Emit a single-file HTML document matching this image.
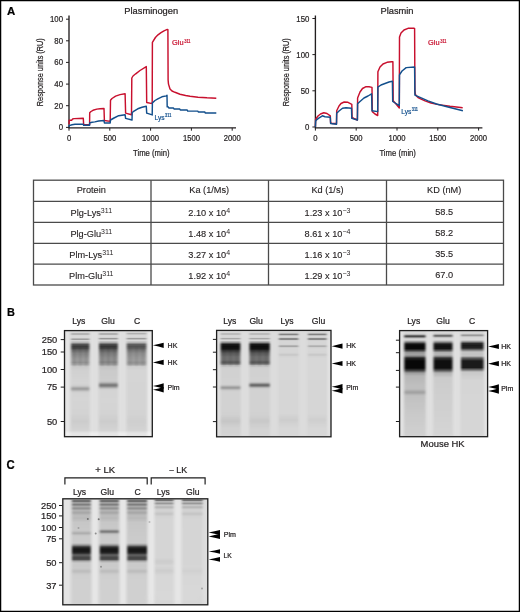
<!DOCTYPE html>
<html><head><meta charset="utf-8"><style>
html,body{margin:0;padding:0;background:#fff;}
body{width:520px;height:612px;overflow:hidden;}
svg{position:absolute;left:0;top:0;font-family:"Liberation Sans", sans-serif;will-change:transform;}
</style></head><body>
<svg width="520" height="612" viewBox="0 0 520 612">
<defs><filter id="bl" x="-10%" y="-2%" width="120%" height="104%"><feGaussianBlur stdDeviation="0.8 0.45"/></filter><filter id="bl2" x="-50%" y="-5%" width="200%" height="110%"><feGaussianBlur stdDeviation="1.2"/></filter><filter id="bl4" x="-100%" y="-100%" width="300%" height="300%"><feGaussianBlur stdDeviation="0.5"/></filter><filter id="bl3" x="-20%" y="-5%" width="140%" height="110%"><feGaussianBlur stdDeviation="4"/></filter><linearGradient id="g1" gradientUnits="userSpaceOnUse" x1="0" y1="331" x2="0" y2="436"><stop offset="0.0000" stop-color="#000" stop-opacity="0.000"/><stop offset="0.0119" stop-color="#000" stop-opacity="0.004"/><stop offset="0.0143" stop-color="#000" stop-opacity="0.011"/><stop offset="0.0167" stop-color="#000" stop-opacity="0.029"/><stop offset="0.0190" stop-color="#000" stop-opacity="0.062"/><stop offset="0.0214" stop-color="#000" stop-opacity="0.114"/><stop offset="0.0262" stop-color="#000" stop-opacity="0.229"/><stop offset="0.0286" stop-color="#000" stop-opacity="0.250"/><stop offset="0.0310" stop-color="#000" stop-opacity="0.229"/><stop offset="0.0381" stop-color="#000" stop-opacity="0.062"/><stop offset="0.0405" stop-color="#000" stop-opacity="0.029"/><stop offset="0.0429" stop-color="#000" stop-opacity="0.011"/><stop offset="0.0524" stop-color="#000" stop-opacity="0.000"/><stop offset="0.0619" stop-color="#000" stop-opacity="0.005"/><stop offset="0.0643" stop-color="#000" stop-opacity="0.016"/><stop offset="0.0667" stop-color="#000" stop-opacity="0.041"/><stop offset="0.0690" stop-color="#000" stop-opacity="0.086"/><stop offset="0.0738" stop-color="#000" stop-opacity="0.226"/><stop offset="0.0762" stop-color="#000" stop-opacity="0.284"/><stop offset="0.0786" stop-color="#000" stop-opacity="0.299"/><stop offset="0.0810" stop-color="#000" stop-opacity="0.265"/><stop offset="0.0857" stop-color="#000" stop-opacity="0.123"/><stop offset="0.0881" stop-color="#000" stop-opacity="0.065"/><stop offset="0.0905" stop-color="#000" stop-opacity="0.029"/><stop offset="0.0929" stop-color="#000" stop-opacity="0.033"/><stop offset="0.1024" stop-color="#000" stop-opacity="0.113"/><stop offset="0.1095" stop-color="#000" stop-opacity="0.180"/><stop offset="0.1286" stop-color="#000" stop-opacity="0.620"/><stop offset="0.1476" stop-color="#000" stop-opacity="0.720"/><stop offset="0.1667" stop-color="#000" stop-opacity="0.660"/><stop offset="0.1810" stop-color="#000" stop-opacity="0.520"/><stop offset="0.2095" stop-color="#000" stop-opacity="0.380"/><stop offset="0.2548" stop-color="#000" stop-opacity="0.290"/><stop offset="0.2762" stop-color="#000" stop-opacity="0.260"/><stop offset="0.3000" stop-color="#000" stop-opacity="0.300"/><stop offset="0.3190" stop-color="#000" stop-opacity="0.220"/><stop offset="0.3381" stop-color="#000" stop-opacity="0.070"/><stop offset="0.3786" stop-color="#000" stop-opacity="0.038"/><stop offset="0.4952" stop-color="#000" stop-opacity="0.020"/><stop offset="0.5143" stop-color="#000" stop-opacity="0.035"/><stop offset="0.5238" stop-color="#000" stop-opacity="0.073"/><stop offset="0.5333" stop-color="#000" stop-opacity="0.150"/><stop offset="0.5429" stop-color="#000" stop-opacity="0.236"/><stop offset="0.5476" stop-color="#000" stop-opacity="0.261"/><stop offset="0.5524" stop-color="#000" stop-opacity="0.263"/><stop offset="0.5595" stop-color="#000" stop-opacity="0.225"/><stop offset="0.5738" stop-color="#000" stop-opacity="0.096"/><stop offset="0.5810" stop-color="#000" stop-opacity="0.053"/><stop offset="0.5905" stop-color="#000" stop-opacity="0.028"/><stop offset="0.6333" stop-color="#000" stop-opacity="0.020"/><stop offset="0.7881" stop-color="#000" stop-opacity="0.028"/><stop offset="0.8595" stop-color="#000" stop-opacity="0.059"/><stop offset="0.9524" stop-color="#000" stop-opacity="0.022"/><stop offset="1.0000" stop-color="#000" stop-opacity="0.020"/></linearGradient><linearGradient id="g2" gradientUnits="userSpaceOnUse" x1="0" y1="331" x2="0" y2="436"><stop offset="0.0000" stop-color="#000" stop-opacity="0.000"/><stop offset="0.0119" stop-color="#000" stop-opacity="0.004"/><stop offset="0.0143" stop-color="#000" stop-opacity="0.012"/><stop offset="0.0167" stop-color="#000" stop-opacity="0.031"/><stop offset="0.0190" stop-color="#000" stop-opacity="0.067"/><stop offset="0.0214" stop-color="#000" stop-opacity="0.124"/><stop offset="0.0238" stop-color="#000" stop-opacity="0.191"/><stop offset="0.0262" stop-color="#000" stop-opacity="0.248"/><stop offset="0.0286" stop-color="#000" stop-opacity="0.270"/><stop offset="0.0310" stop-color="#000" stop-opacity="0.248"/><stop offset="0.0333" stop-color="#000" stop-opacity="0.191"/><stop offset="0.0357" stop-color="#000" stop-opacity="0.124"/><stop offset="0.0381" stop-color="#000" stop-opacity="0.067"/><stop offset="0.0405" stop-color="#000" stop-opacity="0.031"/><stop offset="0.0429" stop-color="#000" stop-opacity="0.012"/><stop offset="0.0500" stop-color="#000" stop-opacity="0.000"/><stop offset="0.0571" stop-color="#000" stop-opacity="0.006"/><stop offset="0.0595" stop-color="#000" stop-opacity="0.017"/><stop offset="0.0619" stop-color="#000" stop-opacity="0.043"/><stop offset="0.0643" stop-color="#000" stop-opacity="0.091"/><stop offset="0.0690" stop-color="#000" stop-opacity="0.242"/><stop offset="0.0714" stop-color="#000" stop-opacity="0.303"/><stop offset="0.0738" stop-color="#000" stop-opacity="0.319"/><stop offset="0.0762" stop-color="#000" stop-opacity="0.282"/><stop offset="0.0810" stop-color="#000" stop-opacity="0.132"/><stop offset="0.0833" stop-color="#000" stop-opacity="0.069"/><stop offset="0.0857" stop-color="#000" stop-opacity="0.031"/><stop offset="0.0881" stop-color="#000" stop-opacity="0.011"/><stop offset="0.0905" stop-color="#000" stop-opacity="0.004"/><stop offset="0.1095" stop-color="#000" stop-opacity="0.220"/><stop offset="0.1286" stop-color="#000" stop-opacity="0.660"/><stop offset="0.1476" stop-color="#000" stop-opacity="0.750"/><stop offset="0.1667" stop-color="#000" stop-opacity="0.680"/><stop offset="0.1810" stop-color="#000" stop-opacity="0.550"/><stop offset="0.2095" stop-color="#000" stop-opacity="0.420"/><stop offset="0.2500" stop-color="#000" stop-opacity="0.338"/><stop offset="0.2762" stop-color="#000" stop-opacity="0.320"/><stop offset="0.2976" stop-color="#000" stop-opacity="0.369"/><stop offset="0.3190" stop-color="#000" stop-opacity="0.280"/><stop offset="0.3381" stop-color="#000" stop-opacity="0.100"/><stop offset="0.3786" stop-color="#000" stop-opacity="0.069"/><stop offset="0.4667" stop-color="#000" stop-opacity="0.055"/><stop offset="0.4786" stop-color="#000" stop-opacity="0.078"/><stop offset="0.4857" stop-color="#000" stop-opacity="0.119"/><stop offset="0.4929" stop-color="#000" stop-opacity="0.189"/><stop offset="0.5071" stop-color="#000" stop-opacity="0.378"/><stop offset="0.5119" stop-color="#000" stop-opacity="0.422"/><stop offset="0.5167" stop-color="#000" stop-opacity="0.440"/><stop offset="0.5214" stop-color="#000" stop-opacity="0.426"/><stop offset="0.5262" stop-color="#000" stop-opacity="0.385"/><stop offset="0.5429" stop-color="#000" stop-opacity="0.159"/><stop offset="0.5500" stop-color="#000" stop-opacity="0.089"/><stop offset="0.5571" stop-color="#000" stop-opacity="0.049"/><stop offset="0.5667" stop-color="#000" stop-opacity="0.026"/><stop offset="0.6619" stop-color="#000" stop-opacity="0.020"/><stop offset="0.7881" stop-color="#000" stop-opacity="0.028"/><stop offset="0.8595" stop-color="#000" stop-opacity="0.059"/><stop offset="0.9524" stop-color="#000" stop-opacity="0.022"/><stop offset="1.0000" stop-color="#000" stop-opacity="0.020"/></linearGradient><linearGradient id="g3" gradientUnits="userSpaceOnUse" x1="0" y1="331" x2="0" y2="436"><stop offset="0.0000" stop-color="#000" stop-opacity="0.000"/><stop offset="0.0095" stop-color="#000" stop-opacity="0.004"/><stop offset="0.0143" stop-color="#000" stop-opacity="0.027"/><stop offset="0.0167" stop-color="#000" stop-opacity="0.057"/><stop offset="0.0214" stop-color="#000" stop-opacity="0.151"/><stop offset="0.0238" stop-color="#000" stop-opacity="0.189"/><stop offset="0.0262" stop-color="#000" stop-opacity="0.199"/><stop offset="0.0286" stop-color="#000" stop-opacity="0.176"/><stop offset="0.0333" stop-color="#000" stop-opacity="0.082"/><stop offset="0.0357" stop-color="#000" stop-opacity="0.043"/><stop offset="0.0381" stop-color="#000" stop-opacity="0.019"/><stop offset="0.0429" stop-color="#000" stop-opacity="0.002"/><stop offset="0.0571" stop-color="#000" stop-opacity="0.005"/><stop offset="0.0595" stop-color="#000" stop-opacity="0.016"/><stop offset="0.0619" stop-color="#000" stop-opacity="0.041"/><stop offset="0.0643" stop-color="#000" stop-opacity="0.086"/><stop offset="0.0690" stop-color="#000" stop-opacity="0.226"/><stop offset="0.0714" stop-color="#000" stop-opacity="0.284"/><stop offset="0.0738" stop-color="#000" stop-opacity="0.299"/><stop offset="0.0762" stop-color="#000" stop-opacity="0.265"/><stop offset="0.0810" stop-color="#000" stop-opacity="0.123"/><stop offset="0.0833" stop-color="#000" stop-opacity="0.065"/><stop offset="0.0857" stop-color="#000" stop-opacity="0.029"/><stop offset="0.0881" stop-color="#000" stop-opacity="0.011"/><stop offset="0.0905" stop-color="#000" stop-opacity="0.003"/><stop offset="0.1095" stop-color="#000" stop-opacity="0.170"/><stop offset="0.1286" stop-color="#000" stop-opacity="0.560"/><stop offset="0.1476" stop-color="#000" stop-opacity="0.620"/><stop offset="0.1667" stop-color="#000" stop-opacity="0.550"/><stop offset="0.1810" stop-color="#000" stop-opacity="0.450"/><stop offset="0.2119" stop-color="#000" stop-opacity="0.336"/><stop offset="0.2524" stop-color="#000" stop-opacity="0.277"/><stop offset="0.2762" stop-color="#000" stop-opacity="0.260"/><stop offset="0.3024" stop-color="#000" stop-opacity="0.307"/><stop offset="0.3071" stop-color="#000" stop-opacity="0.293"/><stop offset="0.3214" stop-color="#000" stop-opacity="0.222"/><stop offset="0.3381" stop-color="#000" stop-opacity="0.050"/><stop offset="0.3762" stop-color="#000" stop-opacity="0.020"/><stop offset="0.7881" stop-color="#000" stop-opacity="0.026"/><stop offset="0.8619" stop-color="#000" stop-opacity="0.049"/><stop offset="0.9595" stop-color="#000" stop-opacity="0.021"/><stop offset="1.0000" stop-color="#000" stop-opacity="0.020"/></linearGradient><linearGradient id="st1" x1="0" y1="0" x2="1" y2="0"><stop offset="0.000" stop-color="#000" stop-opacity="0"/><stop offset="0.167" stop-color="#000" stop-opacity="0.12"/><stop offset="0.333" stop-color="#000" stop-opacity="0"/><stop offset="0.500" stop-color="#000" stop-opacity="0.12"/><stop offset="0.667" stop-color="#000" stop-opacity="0"/><stop offset="0.833" stop-color="#000" stop-opacity="0.12"/><stop offset="1.000" stop-color="#000" stop-opacity="0"/></linearGradient><linearGradient id="st2" x1="0" y1="0" x2="1" y2="0"><stop offset="0.000" stop-color="#000" stop-opacity="0"/><stop offset="0.167" stop-color="#000" stop-opacity="0.12"/><stop offset="0.333" stop-color="#000" stop-opacity="0"/><stop offset="0.500" stop-color="#000" stop-opacity="0.12"/><stop offset="0.667" stop-color="#000" stop-opacity="0"/><stop offset="0.833" stop-color="#000" stop-opacity="0.12"/><stop offset="1.000" stop-color="#000" stop-opacity="0"/></linearGradient><linearGradient id="st3" x1="0" y1="0" x2="1" y2="0"><stop offset="0.000" stop-color="#000" stop-opacity="0"/><stop offset="0.167" stop-color="#000" stop-opacity="0.1"/><stop offset="0.333" stop-color="#000" stop-opacity="0"/><stop offset="0.500" stop-color="#000" stop-opacity="0.1"/><stop offset="0.667" stop-color="#000" stop-opacity="0"/><stop offset="0.833" stop-color="#000" stop-opacity="0.1"/><stop offset="1.000" stop-color="#000" stop-opacity="0"/></linearGradient><linearGradient id="g4" gradientUnits="userSpaceOnUse" x1="0" y1="331" x2="0" y2="436"><stop offset="0.0000" stop-color="#000" stop-opacity="0.000"/><stop offset="0.0143" stop-color="#000" stop-opacity="0.005"/><stop offset="0.0167" stop-color="#000" stop-opacity="0.015"/><stop offset="0.0190" stop-color="#000" stop-opacity="0.038"/><stop offset="0.0214" stop-color="#000" stop-opacity="0.079"/><stop offset="0.0262" stop-color="#000" stop-opacity="0.180"/><stop offset="0.0286" stop-color="#000" stop-opacity="0.200"/><stop offset="0.0310" stop-color="#000" stop-opacity="0.180"/><stop offset="0.0357" stop-color="#000" stop-opacity="0.079"/><stop offset="0.0381" stop-color="#000" stop-opacity="0.038"/><stop offset="0.0405" stop-color="#000" stop-opacity="0.015"/><stop offset="0.0452" stop-color="#000" stop-opacity="0.001"/><stop offset="0.0595" stop-color="#000" stop-opacity="0.007"/><stop offset="0.0619" stop-color="#000" stop-opacity="0.022"/><stop offset="0.0643" stop-color="#000" stop-opacity="0.054"/><stop offset="0.0667" stop-color="#000" stop-opacity="0.107"/><stop offset="0.0690" stop-color="#000" stop-opacity="0.172"/><stop offset="0.0714" stop-color="#000" stop-opacity="0.225"/><stop offset="0.0738" stop-color="#000" stop-opacity="0.239"/><stop offset="0.0762" stop-color="#000" stop-opacity="0.207"/><stop offset="0.0810" stop-color="#000" stop-opacity="0.083"/><stop offset="0.0833" stop-color="#000" stop-opacity="0.039"/><stop offset="0.0857" stop-color="#000" stop-opacity="0.015"/><stop offset="0.0905" stop-color="#000" stop-opacity="0.001"/><stop offset="0.1095" stop-color="#000" stop-opacity="0.350"/><stop offset="0.1262" stop-color="#000" stop-opacity="0.865"/><stop offset="0.1286" stop-color="#000" stop-opacity="0.885"/><stop offset="0.1476" stop-color="#000" stop-opacity="0.940"/><stop offset="0.1714" stop-color="#000" stop-opacity="0.900"/><stop offset="0.1857" stop-color="#000" stop-opacity="0.750"/><stop offset="0.2095" stop-color="#000" stop-opacity="0.580"/><stop offset="0.2476" stop-color="#000" stop-opacity="0.460"/><stop offset="0.2762" stop-color="#000" stop-opacity="0.460"/><stop offset="0.2976" stop-color="#000" stop-opacity="0.577"/><stop offset="0.3095" stop-color="#000" stop-opacity="0.495"/><stop offset="0.3143" stop-color="#000" stop-opacity="0.460"/><stop offset="0.3286" stop-color="#000" stop-opacity="0.120"/><stop offset="0.3524" stop-color="#000" stop-opacity="0.030"/><stop offset="0.5000" stop-color="#000" stop-opacity="0.023"/><stop offset="0.5095" stop-color="#000" stop-opacity="0.039"/><stop offset="0.5167" stop-color="#000" stop-opacity="0.075"/><stop offset="0.5238" stop-color="#000" stop-opacity="0.142"/><stop offset="0.5333" stop-color="#000" stop-opacity="0.245"/><stop offset="0.5381" stop-color="#000" stop-opacity="0.272"/><stop offset="0.5429" stop-color="#000" stop-opacity="0.269"/><stop offset="0.5476" stop-color="#000" stop-opacity="0.236"/><stop offset="0.5619" stop-color="#000" stop-opacity="0.086"/><stop offset="0.5690" stop-color="#000" stop-opacity="0.044"/><stop offset="0.5810" stop-color="#000" stop-opacity="0.022"/><stop offset="0.7952" stop-color="#000" stop-opacity="0.026"/><stop offset="0.8381" stop-color="#000" stop-opacity="0.067"/><stop offset="0.8619" stop-color="#000" stop-opacity="0.078"/><stop offset="0.9214" stop-color="#000" stop-opacity="0.025"/><stop offset="1.0000" stop-color="#000" stop-opacity="0.020"/></linearGradient><linearGradient id="g5" gradientUnits="userSpaceOnUse" x1="0" y1="331" x2="0" y2="436"><stop offset="0.0000" stop-color="#000" stop-opacity="0.000"/><stop offset="0.0143" stop-color="#000" stop-opacity="0.005"/><stop offset="0.0167" stop-color="#000" stop-opacity="0.015"/><stop offset="0.0190" stop-color="#000" stop-opacity="0.038"/><stop offset="0.0214" stop-color="#000" stop-opacity="0.079"/><stop offset="0.0262" stop-color="#000" stop-opacity="0.180"/><stop offset="0.0286" stop-color="#000" stop-opacity="0.200"/><stop offset="0.0310" stop-color="#000" stop-opacity="0.180"/><stop offset="0.0357" stop-color="#000" stop-opacity="0.079"/><stop offset="0.0381" stop-color="#000" stop-opacity="0.038"/><stop offset="0.0405" stop-color="#000" stop-opacity="0.015"/><stop offset="0.0452" stop-color="#000" stop-opacity="0.001"/><stop offset="0.0595" stop-color="#000" stop-opacity="0.007"/><stop offset="0.0619" stop-color="#000" stop-opacity="0.022"/><stop offset="0.0643" stop-color="#000" stop-opacity="0.054"/><stop offset="0.0667" stop-color="#000" stop-opacity="0.107"/><stop offset="0.0690" stop-color="#000" stop-opacity="0.172"/><stop offset="0.0714" stop-color="#000" stop-opacity="0.225"/><stop offset="0.0738" stop-color="#000" stop-opacity="0.239"/><stop offset="0.0762" stop-color="#000" stop-opacity="0.207"/><stop offset="0.0810" stop-color="#000" stop-opacity="0.083"/><stop offset="0.0833" stop-color="#000" stop-opacity="0.039"/><stop offset="0.0857" stop-color="#000" stop-opacity="0.015"/><stop offset="0.0905" stop-color="#000" stop-opacity="0.001"/><stop offset="0.1095" stop-color="#000" stop-opacity="0.350"/><stop offset="0.1262" stop-color="#000" stop-opacity="0.865"/><stop offset="0.1286" stop-color="#000" stop-opacity="0.885"/><stop offset="0.1476" stop-color="#000" stop-opacity="0.940"/><stop offset="0.1714" stop-color="#000" stop-opacity="0.900"/><stop offset="0.1857" stop-color="#000" stop-opacity="0.750"/><stop offset="0.2095" stop-color="#000" stop-opacity="0.580"/><stop offset="0.2476" stop-color="#000" stop-opacity="0.460"/><stop offset="0.2762" stop-color="#000" stop-opacity="0.460"/><stop offset="0.2976" stop-color="#000" stop-opacity="0.577"/><stop offset="0.3095" stop-color="#000" stop-opacity="0.495"/><stop offset="0.3143" stop-color="#000" stop-opacity="0.460"/><stop offset="0.3286" stop-color="#000" stop-opacity="0.120"/><stop offset="0.3524" stop-color="#000" stop-opacity="0.030"/><stop offset="0.4714" stop-color="#000" stop-opacity="0.024"/><stop offset="0.4810" stop-color="#000" stop-opacity="0.043"/><stop offset="0.4881" stop-color="#000" stop-opacity="0.091"/><stop offset="0.4929" stop-color="#000" stop-opacity="0.149"/><stop offset="0.5000" stop-color="#000" stop-opacity="0.278"/><stop offset="0.5071" stop-color="#000" stop-opacity="0.421"/><stop offset="0.5119" stop-color="#000" stop-opacity="0.488"/><stop offset="0.5143" stop-color="#000" stop-opacity="0.506"/><stop offset="0.5167" stop-color="#000" stop-opacity="0.510"/><stop offset="0.5190" stop-color="#000" stop-opacity="0.500"/><stop offset="0.5214" stop-color="#000" stop-opacity="0.478"/><stop offset="0.5262" stop-color="#000" stop-opacity="0.404"/><stop offset="0.5357" stop-color="#000" stop-opacity="0.213"/><stop offset="0.5405" stop-color="#000" stop-opacity="0.136"/><stop offset="0.5452" stop-color="#000" stop-opacity="0.082"/><stop offset="0.5524" stop-color="#000" stop-opacity="0.040"/><stop offset="0.5643" stop-color="#000" stop-opacity="0.022"/><stop offset="0.7976" stop-color="#000" stop-opacity="0.026"/><stop offset="0.8571" stop-color="#000" stop-opacity="0.069"/><stop offset="0.8929" stop-color="#000" stop-opacity="0.042"/><stop offset="0.9333" stop-color="#000" stop-opacity="0.021"/><stop offset="1.0000" stop-color="#000" stop-opacity="0.020"/></linearGradient><linearGradient id="g6" gradientUnits="userSpaceOnUse" x1="0" y1="331" x2="0" y2="436"><stop offset="0.0000" stop-color="#000" stop-opacity="0.000"/><stop offset="0.0119" stop-color="#000" stop-opacity="0.004"/><stop offset="0.0167" stop-color="#000" stop-opacity="0.025"/><stop offset="0.0190" stop-color="#000" stop-opacity="0.054"/><stop offset="0.0214" stop-color="#000" stop-opacity="0.104"/><stop offset="0.0238" stop-color="#000" stop-opacity="0.175"/><stop offset="0.0286" stop-color="#000" stop-opacity="0.340"/><stop offset="0.0310" stop-color="#000" stop-opacity="0.391"/><stop offset="0.0333" stop-color="#000" stop-opacity="0.396"/><stop offset="0.0357" stop-color="#000" stop-opacity="0.353"/><stop offset="0.0429" stop-color="#000" stop-opacity="0.116"/><stop offset="0.0452" stop-color="#000" stop-opacity="0.062"/><stop offset="0.0476" stop-color="#000" stop-opacity="0.029"/><stop offset="0.0524" stop-color="#000" stop-opacity="0.005"/><stop offset="0.0571" stop-color="#000" stop-opacity="0.008"/><stop offset="0.0595" stop-color="#000" stop-opacity="0.020"/><stop offset="0.0619" stop-color="#000" stop-opacity="0.046"/><stop offset="0.0643" stop-color="#000" stop-opacity="0.093"/><stop offset="0.0667" stop-color="#000" stop-opacity="0.166"/><stop offset="0.0714" stop-color="#000" stop-opacity="0.356"/><stop offset="0.0738" stop-color="#000" stop-opacity="0.432"/><stop offset="0.0762" stop-color="#000" stop-opacity="0.460"/><stop offset="0.0786" stop-color="#000" stop-opacity="0.432"/><stop offset="0.0810" stop-color="#000" stop-opacity="0.356"/><stop offset="0.0857" stop-color="#000" stop-opacity="0.166"/><stop offset="0.0881" stop-color="#000" stop-opacity="0.093"/><stop offset="0.0905" stop-color="#000" stop-opacity="0.046"/><stop offset="0.0929" stop-color="#000" stop-opacity="0.020"/><stop offset="0.0976" stop-color="#000" stop-opacity="0.003"/><stop offset="0.1238" stop-color="#000" stop-opacity="0.003"/><stop offset="0.1286" stop-color="#000" stop-opacity="0.018"/><stop offset="0.1310" stop-color="#000" stop-opacity="0.037"/><stop offset="0.1333" stop-color="#000" stop-opacity="0.067"/><stop offset="0.1405" stop-color="#000" stop-opacity="0.200"/><stop offset="0.1429" stop-color="#000" stop-opacity="0.232"/><stop offset="0.1452" stop-color="#000" stop-opacity="0.239"/><stop offset="0.1476" stop-color="#000" stop-opacity="0.222"/><stop offset="0.1524" stop-color="#000" stop-opacity="0.136"/><stop offset="0.1571" stop-color="#000" stop-opacity="0.053"/><stop offset="0.1595" stop-color="#000" stop-opacity="0.028"/><stop offset="0.1643" stop-color="#000" stop-opacity="0.006"/><stop offset="0.2024" stop-color="#000" stop-opacity="0.003"/><stop offset="0.2119" stop-color="#000" stop-opacity="0.021"/><stop offset="0.2238" stop-color="#000" stop-opacity="0.067"/><stop offset="0.2310" stop-color="#000" stop-opacity="0.063"/><stop offset="0.2452" stop-color="#000" stop-opacity="0.010"/><stop offset="0.2643" stop-color="#000" stop-opacity="0.000"/><stop offset="0.7857" stop-color="#000" stop-opacity="0.005"/><stop offset="0.8476" stop-color="#000" stop-opacity="0.050"/><stop offset="0.8833" stop-color="#000" stop-opacity="0.023"/><stop offset="0.9238" stop-color="#000" stop-opacity="0.001"/><stop offset="1.0000" stop-color="#000" stop-opacity="0.000"/></linearGradient><linearGradient id="g7" gradientUnits="userSpaceOnUse" x1="0" y1="331" x2="0" y2="436"><stop offset="0.0000" stop-color="#000" stop-opacity="0.000"/><stop offset="0.0119" stop-color="#000" stop-opacity="0.004"/><stop offset="0.0167" stop-color="#000" stop-opacity="0.025"/><stop offset="0.0190" stop-color="#000" stop-opacity="0.054"/><stop offset="0.0214" stop-color="#000" stop-opacity="0.104"/><stop offset="0.0238" stop-color="#000" stop-opacity="0.175"/><stop offset="0.0286" stop-color="#000" stop-opacity="0.340"/><stop offset="0.0310" stop-color="#000" stop-opacity="0.391"/><stop offset="0.0333" stop-color="#000" stop-opacity="0.396"/><stop offset="0.0357" stop-color="#000" stop-opacity="0.353"/><stop offset="0.0429" stop-color="#000" stop-opacity="0.116"/><stop offset="0.0452" stop-color="#000" stop-opacity="0.062"/><stop offset="0.0476" stop-color="#000" stop-opacity="0.029"/><stop offset="0.0524" stop-color="#000" stop-opacity="0.005"/><stop offset="0.0571" stop-color="#000" stop-opacity="0.008"/><stop offset="0.0595" stop-color="#000" stop-opacity="0.020"/><stop offset="0.0619" stop-color="#000" stop-opacity="0.046"/><stop offset="0.0643" stop-color="#000" stop-opacity="0.093"/><stop offset="0.0667" stop-color="#000" stop-opacity="0.166"/><stop offset="0.0714" stop-color="#000" stop-opacity="0.356"/><stop offset="0.0738" stop-color="#000" stop-opacity="0.432"/><stop offset="0.0762" stop-color="#000" stop-opacity="0.460"/><stop offset="0.0786" stop-color="#000" stop-opacity="0.432"/><stop offset="0.0810" stop-color="#000" stop-opacity="0.356"/><stop offset="0.0857" stop-color="#000" stop-opacity="0.166"/><stop offset="0.0881" stop-color="#000" stop-opacity="0.093"/><stop offset="0.0905" stop-color="#000" stop-opacity="0.046"/><stop offset="0.0929" stop-color="#000" stop-opacity="0.020"/><stop offset="0.0976" stop-color="#000" stop-opacity="0.003"/><stop offset="0.1238" stop-color="#000" stop-opacity="0.003"/><stop offset="0.1286" stop-color="#000" stop-opacity="0.015"/><stop offset="0.1333" stop-color="#000" stop-opacity="0.056"/><stop offset="0.1405" stop-color="#000" stop-opacity="0.167"/><stop offset="0.1429" stop-color="#000" stop-opacity="0.193"/><stop offset="0.1452" stop-color="#000" stop-opacity="0.200"/><stop offset="0.1476" stop-color="#000" stop-opacity="0.185"/><stop offset="0.1571" stop-color="#000" stop-opacity="0.045"/><stop offset="0.1619" stop-color="#000" stop-opacity="0.011"/><stop offset="0.1738" stop-color="#000" stop-opacity="0.000"/><stop offset="0.2048" stop-color="#000" stop-opacity="0.005"/><stop offset="0.2143" stop-color="#000" stop-opacity="0.030"/><stop offset="0.2238" stop-color="#000" stop-opacity="0.067"/><stop offset="0.2310" stop-color="#000" stop-opacity="0.063"/><stop offset="0.2452" stop-color="#000" stop-opacity="0.010"/><stop offset="0.2643" stop-color="#000" stop-opacity="0.000"/><stop offset="0.7905" stop-color="#000" stop-opacity="0.005"/><stop offset="0.8476" stop-color="#000" stop-opacity="0.040"/><stop offset="0.9190" stop-color="#000" stop-opacity="0.002"/><stop offset="1.0000" stop-color="#000" stop-opacity="0.000"/></linearGradient><linearGradient id="st4" x1="0" y1="0" x2="1" y2="0"><stop offset="0.000" stop-color="#000" stop-opacity="0"/><stop offset="0.167" stop-color="#000" stop-opacity="0.12"/><stop offset="0.333" stop-color="#000" stop-opacity="0"/><stop offset="0.500" stop-color="#000" stop-opacity="0.12"/><stop offset="0.667" stop-color="#000" stop-opacity="0"/><stop offset="0.833" stop-color="#000" stop-opacity="0.12"/><stop offset="1.000" stop-color="#000" stop-opacity="0"/></linearGradient><linearGradient id="st5" x1="0" y1="0" x2="1" y2="0"><stop offset="0.000" stop-color="#000" stop-opacity="0"/><stop offset="0.167" stop-color="#000" stop-opacity="0.12"/><stop offset="0.333" stop-color="#000" stop-opacity="0"/><stop offset="0.500" stop-color="#000" stop-opacity="0.12"/><stop offset="0.667" stop-color="#000" stop-opacity="0"/><stop offset="0.833" stop-color="#000" stop-opacity="0.12"/><stop offset="1.000" stop-color="#000" stop-opacity="0"/></linearGradient><linearGradient id="g8" gradientUnits="userSpaceOnUse" x1="0" y1="331" x2="0" y2="436"><stop offset="0.0000" stop-color="#000" stop-opacity="0.000"/><stop offset="0.0190" stop-color="#000" stop-opacity="0.007"/><stop offset="0.0238" stop-color="#000" stop-opacity="0.026"/><stop offset="0.0262" stop-color="#000" stop-opacity="0.045"/><stop offset="0.0286" stop-color="#000" stop-opacity="0.074"/><stop offset="0.0310" stop-color="#000" stop-opacity="0.116"/><stop offset="0.0333" stop-color="#000" stop-opacity="0.173"/><stop offset="0.0357" stop-color="#000" stop-opacity="0.245"/><stop offset="0.0429" stop-color="#000" stop-opacity="0.507"/><stop offset="0.0452" stop-color="#000" stop-opacity="0.582"/><stop offset="0.0476" stop-color="#000" stop-opacity="0.636"/><stop offset="0.0500" stop-color="#000" stop-opacity="0.659"/><stop offset="0.0524" stop-color="#000" stop-opacity="0.649"/><stop offset="0.0548" stop-color="#000" stop-opacity="0.607"/><stop offset="0.0571" stop-color="#000" stop-opacity="0.539"/><stop offset="0.0643" stop-color="#000" stop-opacity="0.277"/><stop offset="0.0667" stop-color="#000" stop-opacity="0.200"/><stop offset="0.0690" stop-color="#000" stop-opacity="0.137"/><stop offset="0.0714" stop-color="#000" stop-opacity="0.089"/><stop offset="0.0738" stop-color="#000" stop-opacity="0.055"/><stop offset="0.0786" stop-color="#000" stop-opacity="0.018"/><stop offset="0.0857" stop-color="#000" stop-opacity="0.002"/><stop offset="0.1048" stop-color="#000" stop-opacity="0.400"/><stop offset="0.1238" stop-color="#000" stop-opacity="0.900"/><stop offset="0.1429" stop-color="#000" stop-opacity="0.970"/><stop offset="0.1667" stop-color="#000" stop-opacity="0.950"/><stop offset="0.1857" stop-color="#000" stop-opacity="0.700"/><stop offset="0.2048" stop-color="#000" stop-opacity="0.320"/><stop offset="0.2214" stop-color="#000" stop-opacity="0.243"/><stop offset="0.2381" stop-color="#000" stop-opacity="0.360"/><stop offset="0.2571" stop-color="#000" stop-opacity="0.820"/><stop offset="0.2857" stop-color="#000" stop-opacity="0.970"/><stop offset="0.3524" stop-color="#000" stop-opacity="0.970"/><stop offset="0.3762" stop-color="#000" stop-opacity="0.700"/><stop offset="0.4000" stop-color="#000" stop-opacity="0.280"/><stop offset="0.4286" stop-color="#000" stop-opacity="0.160"/><stop offset="0.5310" stop-color="#000" stop-opacity="0.118"/><stop offset="0.5500" stop-color="#000" stop-opacity="0.127"/><stop offset="0.5619" stop-color="#000" stop-opacity="0.164"/><stop offset="0.5786" stop-color="#000" stop-opacity="0.245"/><stop offset="0.5857" stop-color="#000" stop-opacity="0.251"/><stop offset="0.5929" stop-color="#000" stop-opacity="0.229"/><stop offset="0.6095" stop-color="#000" stop-opacity="0.141"/><stop offset="0.6214" stop-color="#000" stop-opacity="0.112"/><stop offset="0.7881" stop-color="#000" stop-opacity="0.073"/><stop offset="1.0000" stop-color="#000" stop-opacity="0.040"/></linearGradient><linearGradient id="g9" gradientUnits="userSpaceOnUse" x1="0" y1="331" x2="0" y2="436"><stop offset="0.0000" stop-color="#000" stop-opacity="0.000"/><stop offset="0.0167" stop-color="#000" stop-opacity="0.005"/><stop offset="0.0214" stop-color="#000" stop-opacity="0.020"/><stop offset="0.0262" stop-color="#000" stop-opacity="0.064"/><stop offset="0.0286" stop-color="#000" stop-opacity="0.103"/><stop offset="0.0310" stop-color="#000" stop-opacity="0.156"/><stop offset="0.0357" stop-color="#000" stop-opacity="0.300"/><stop offset="0.0405" stop-color="#000" stop-opacity="0.447"/><stop offset="0.0429" stop-color="#000" stop-opacity="0.497"/><stop offset="0.0452" stop-color="#000" stop-opacity="0.519"/><stop offset="0.0476" stop-color="#000" stop-opacity="0.510"/><stop offset="0.0500" stop-color="#000" stop-opacity="0.470"/><stop offset="0.0524" stop-color="#000" stop-opacity="0.407"/><stop offset="0.0595" stop-color="#000" stop-opacity="0.182"/><stop offset="0.0619" stop-color="#000" stop-opacity="0.123"/><stop offset="0.0643" stop-color="#000" stop-opacity="0.078"/><stop offset="0.0667" stop-color="#000" stop-opacity="0.046"/><stop offset="0.0714" stop-color="#000" stop-opacity="0.014"/><stop offset="0.0810" stop-color="#000" stop-opacity="0.001"/><stop offset="0.0857" stop-color="#000" stop-opacity="0.000"/><stop offset="0.1048" stop-color="#000" stop-opacity="0.350"/><stop offset="0.1238" stop-color="#000" stop-opacity="0.850"/><stop offset="0.1429" stop-color="#000" stop-opacity="0.930"/><stop offset="0.1667" stop-color="#000" stop-opacity="0.900"/><stop offset="0.1857" stop-color="#000" stop-opacity="0.600"/><stop offset="0.2048" stop-color="#000" stop-opacity="0.200"/><stop offset="0.2214" stop-color="#000" stop-opacity="0.144"/><stop offset="0.2381" stop-color="#000" stop-opacity="0.280"/><stop offset="0.2571" stop-color="#000" stop-opacity="0.750"/><stop offset="0.2857" stop-color="#000" stop-opacity="0.930"/><stop offset="0.3524" stop-color="#000" stop-opacity="0.930"/><stop offset="0.3762" stop-color="#000" stop-opacity="0.600"/><stop offset="0.4000" stop-color="#000" stop-opacity="0.180"/><stop offset="0.4476" stop-color="#000" stop-opacity="0.060"/><stop offset="1.0000" stop-color="#000" stop-opacity="0.020"/></linearGradient><linearGradient id="g10" gradientUnits="userSpaceOnUse" x1="0" y1="331" x2="0" y2="436"><stop offset="0.0000" stop-color="#000" stop-opacity="0.000"/><stop offset="0.0190" stop-color="#000" stop-opacity="0.008"/><stop offset="0.0238" stop-color="#000" stop-opacity="0.032"/><stop offset="0.0262" stop-color="#000" stop-opacity="0.057"/><stop offset="0.0286" stop-color="#000" stop-opacity="0.093"/><stop offset="0.0357" stop-color="#000" stop-opacity="0.243"/><stop offset="0.0381" stop-color="#000" stop-opacity="0.282"/><stop offset="0.0405" stop-color="#000" stop-opacity="0.299"/><stop offset="0.0429" stop-color="#000" stop-opacity="0.292"/><stop offset="0.0452" stop-color="#000" stop-opacity="0.261"/><stop offset="0.0524" stop-color="#000" stop-opacity="0.111"/><stop offset="0.0548" stop-color="#000" stop-opacity="0.070"/><stop offset="0.0571" stop-color="#000" stop-opacity="0.041"/><stop offset="0.0619" stop-color="#000" stop-opacity="0.011"/><stop offset="0.0738" stop-color="#000" stop-opacity="0.000"/><stop offset="0.0857" stop-color="#000" stop-opacity="0.000"/><stop offset="0.1000" stop-color="#000" stop-opacity="0.300"/><stop offset="0.1190" stop-color="#000" stop-opacity="0.800"/><stop offset="0.1381" stop-color="#000" stop-opacity="0.880"/><stop offset="0.1619" stop-color="#000" stop-opacity="0.840"/><stop offset="0.1833" stop-color="#000" stop-opacity="0.406"/><stop offset="0.2000" stop-color="#000" stop-opacity="0.100"/><stop offset="0.2381" stop-color="#000" stop-opacity="0.100"/><stop offset="0.2571" stop-color="#000" stop-opacity="0.550"/><stop offset="0.2857" stop-color="#000" stop-opacity="0.880"/><stop offset="0.3476" stop-color="#000" stop-opacity="0.880"/><stop offset="0.3738" stop-color="#000" stop-opacity="0.404"/><stop offset="0.3905" stop-color="#000" stop-opacity="0.080"/><stop offset="0.4714" stop-color="#000" stop-opacity="0.020"/><stop offset="1.0000" stop-color="#000" stop-opacity="0.010"/></linearGradient><linearGradient id="g11" gradientUnits="userSpaceOnUse" x1="0" y1="499.5" x2="0" y2="604"><stop offset="0.0000" stop-color="#000" stop-opacity="0.232"/><stop offset="0.0072" stop-color="#000" stop-opacity="0.420"/><stop offset="0.0096" stop-color="#000" stop-opacity="0.475"/><stop offset="0.0120" stop-color="#000" stop-opacity="0.513"/><stop offset="0.0144" stop-color="#000" stop-opacity="0.527"/><stop offset="0.0167" stop-color="#000" stop-opacity="0.515"/><stop offset="0.0191" stop-color="#000" stop-opacity="0.478"/><stop offset="0.0263" stop-color="#000" stop-opacity="0.315"/><stop offset="0.0287" stop-color="#000" stop-opacity="0.275"/><stop offset="0.0311" stop-color="#000" stop-opacity="0.255"/><stop offset="0.0335" stop-color="#000" stop-opacity="0.254"/><stop offset="0.0359" stop-color="#000" stop-opacity="0.272"/><stop offset="0.0431" stop-color="#000" stop-opacity="0.374"/><stop offset="0.0455" stop-color="#000" stop-opacity="0.402"/><stop offset="0.0478" stop-color="#000" stop-opacity="0.416"/><stop offset="0.0502" stop-color="#000" stop-opacity="0.415"/><stop offset="0.0526" stop-color="#000" stop-opacity="0.399"/><stop offset="0.0574" stop-color="#000" stop-opacity="0.334"/><stop offset="0.0622" stop-color="#000" stop-opacity="0.265"/><stop offset="0.0646" stop-color="#000" stop-opacity="0.242"/><stop offset="0.0670" stop-color="#000" stop-opacity="0.231"/><stop offset="0.0694" stop-color="#000" stop-opacity="0.233"/><stop offset="0.0742" stop-color="#000" stop-opacity="0.263"/><stop offset="0.0813" stop-color="#000" stop-opacity="0.319"/><stop offset="0.0861" stop-color="#000" stop-opacity="0.323"/><stop offset="0.0909" stop-color="#000" stop-opacity="0.292"/><stop offset="0.1005" stop-color="#000" stop-opacity="0.202"/><stop offset="0.1053" stop-color="#000" stop-opacity="0.181"/><stop offset="0.1124" stop-color="#000" stop-opacity="0.193"/><stop offset="0.1220" stop-color="#000" stop-opacity="0.228"/><stop offset="0.1292" stop-color="#000" stop-opacity="0.227"/><stop offset="0.1483" stop-color="#000" stop-opacity="0.143"/><stop offset="0.1579" stop-color="#000" stop-opacity="0.132"/><stop offset="0.1794" stop-color="#000" stop-opacity="0.145"/><stop offset="0.2201" stop-color="#000" stop-opacity="0.083"/><stop offset="0.2919" stop-color="#000" stop-opacity="0.074"/><stop offset="0.3014" stop-color="#000" stop-opacity="0.093"/><stop offset="0.3134" stop-color="#000" stop-opacity="0.163"/><stop offset="0.3206" stop-color="#000" stop-opacity="0.196"/><stop offset="0.3254" stop-color="#000" stop-opacity="0.193"/><stop offset="0.3349" stop-color="#000" stop-opacity="0.138"/><stop offset="0.3445" stop-color="#000" stop-opacity="0.085"/><stop offset="0.3565" stop-color="#000" stop-opacity="0.065"/><stop offset="0.4019" stop-color="#000" stop-opacity="0.065"/><stop offset="0.4163" stop-color="#000" stop-opacity="0.070"/><stop offset="0.4354" stop-color="#000" stop-opacity="0.300"/><stop offset="0.4545" stop-color="#000" stop-opacity="0.750"/><stop offset="0.4737" stop-color="#000" stop-opacity="0.900"/><stop offset="0.5024" stop-color="#000" stop-opacity="0.880"/><stop offset="0.5191" stop-color="#000" stop-opacity="0.724"/><stop offset="0.5311" stop-color="#000" stop-opacity="0.550"/><stop offset="0.5598" stop-color="#000" stop-opacity="0.700"/><stop offset="0.5742" stop-color="#000" stop-opacity="0.625"/><stop offset="0.5766" stop-color="#000" stop-opacity="0.580"/><stop offset="0.5885" stop-color="#000" stop-opacity="0.250"/><stop offset="0.6077" stop-color="#000" stop-opacity="0.070"/><stop offset="0.6579" stop-color="#000" stop-opacity="0.068"/><stop offset="0.6722" stop-color="#000" stop-opacity="0.099"/><stop offset="0.6842" stop-color="#000" stop-opacity="0.130"/><stop offset="0.6938" stop-color="#000" stop-opacity="0.121"/><stop offset="0.7129" stop-color="#000" stop-opacity="0.062"/><stop offset="0.7368" stop-color="#000" stop-opacity="0.046"/><stop offset="0.9019" stop-color="#000" stop-opacity="0.040"/><stop offset="1.0000" stop-color="#000" stop-opacity="0.040"/></linearGradient><linearGradient id="g12" gradientUnits="userSpaceOnUse" x1="0" y1="499.5" x2="0" y2="604"><stop offset="0.0000" stop-color="#000" stop-opacity="0.232"/><stop offset="0.0072" stop-color="#000" stop-opacity="0.420"/><stop offset="0.0096" stop-color="#000" stop-opacity="0.475"/><stop offset="0.0120" stop-color="#000" stop-opacity="0.513"/><stop offset="0.0144" stop-color="#000" stop-opacity="0.527"/><stop offset="0.0167" stop-color="#000" stop-opacity="0.515"/><stop offset="0.0191" stop-color="#000" stop-opacity="0.478"/><stop offset="0.0263" stop-color="#000" stop-opacity="0.315"/><stop offset="0.0287" stop-color="#000" stop-opacity="0.275"/><stop offset="0.0311" stop-color="#000" stop-opacity="0.255"/><stop offset="0.0335" stop-color="#000" stop-opacity="0.254"/><stop offset="0.0359" stop-color="#000" stop-opacity="0.272"/><stop offset="0.0431" stop-color="#000" stop-opacity="0.374"/><stop offset="0.0455" stop-color="#000" stop-opacity="0.402"/><stop offset="0.0478" stop-color="#000" stop-opacity="0.416"/><stop offset="0.0502" stop-color="#000" stop-opacity="0.415"/><stop offset="0.0526" stop-color="#000" stop-opacity="0.399"/><stop offset="0.0574" stop-color="#000" stop-opacity="0.334"/><stop offset="0.0622" stop-color="#000" stop-opacity="0.265"/><stop offset="0.0646" stop-color="#000" stop-opacity="0.242"/><stop offset="0.0670" stop-color="#000" stop-opacity="0.231"/><stop offset="0.0694" stop-color="#000" stop-opacity="0.233"/><stop offset="0.0742" stop-color="#000" stop-opacity="0.263"/><stop offset="0.0813" stop-color="#000" stop-opacity="0.319"/><stop offset="0.0861" stop-color="#000" stop-opacity="0.323"/><stop offset="0.0909" stop-color="#000" stop-opacity="0.292"/><stop offset="0.1005" stop-color="#000" stop-opacity="0.202"/><stop offset="0.1053" stop-color="#000" stop-opacity="0.181"/><stop offset="0.1124" stop-color="#000" stop-opacity="0.193"/><stop offset="0.1220" stop-color="#000" stop-opacity="0.228"/><stop offset="0.1292" stop-color="#000" stop-opacity="0.227"/><stop offset="0.1483" stop-color="#000" stop-opacity="0.143"/><stop offset="0.1579" stop-color="#000" stop-opacity="0.132"/><stop offset="0.1794" stop-color="#000" stop-opacity="0.145"/><stop offset="0.2201" stop-color="#000" stop-opacity="0.083"/><stop offset="0.2703" stop-color="#000" stop-opacity="0.077"/><stop offset="0.2775" stop-color="#000" stop-opacity="0.092"/><stop offset="0.2823" stop-color="#000" stop-opacity="0.119"/><stop offset="0.2871" stop-color="#000" stop-opacity="0.166"/><stop offset="0.2943" stop-color="#000" stop-opacity="0.276"/><stop offset="0.3014" stop-color="#000" stop-opacity="0.387"/><stop offset="0.3038" stop-color="#000" stop-opacity="0.410"/><stop offset="0.3062" stop-color="#000" stop-opacity="0.421"/><stop offset="0.3086" stop-color="#000" stop-opacity="0.420"/><stop offset="0.3110" stop-color="#000" stop-opacity="0.406"/><stop offset="0.3158" stop-color="#000" stop-opacity="0.346"/><stop offset="0.3254" stop-color="#000" stop-opacity="0.188"/><stop offset="0.3301" stop-color="#000" stop-opacity="0.131"/><stop offset="0.3373" stop-color="#000" stop-opacity="0.084"/><stop offset="0.3493" stop-color="#000" stop-opacity="0.065"/><stop offset="0.3995" stop-color="#000" stop-opacity="0.064"/><stop offset="0.4163" stop-color="#000" stop-opacity="0.070"/><stop offset="0.4354" stop-color="#000" stop-opacity="0.300"/><stop offset="0.4545" stop-color="#000" stop-opacity="0.750"/><stop offset="0.4737" stop-color="#000" stop-opacity="0.900"/><stop offset="0.5024" stop-color="#000" stop-opacity="0.880"/><stop offset="0.5191" stop-color="#000" stop-opacity="0.724"/><stop offset="0.5311" stop-color="#000" stop-opacity="0.550"/><stop offset="0.5598" stop-color="#000" stop-opacity="0.700"/><stop offset="0.5742" stop-color="#000" stop-opacity="0.625"/><stop offset="0.5766" stop-color="#000" stop-opacity="0.580"/><stop offset="0.5885" stop-color="#000" stop-opacity="0.250"/><stop offset="0.6077" stop-color="#000" stop-opacity="0.070"/><stop offset="0.6579" stop-color="#000" stop-opacity="0.068"/><stop offset="0.6722" stop-color="#000" stop-opacity="0.099"/><stop offset="0.6842" stop-color="#000" stop-opacity="0.130"/><stop offset="0.6938" stop-color="#000" stop-opacity="0.121"/><stop offset="0.7129" stop-color="#000" stop-opacity="0.062"/><stop offset="0.7368" stop-color="#000" stop-opacity="0.046"/><stop offset="0.9019" stop-color="#000" stop-opacity="0.040"/><stop offset="1.0000" stop-color="#000" stop-opacity="0.040"/></linearGradient><linearGradient id="g13" gradientUnits="userSpaceOnUse" x1="0" y1="499.5" x2="0" y2="604"><stop offset="0.0000" stop-color="#000" stop-opacity="0.232"/><stop offset="0.0072" stop-color="#000" stop-opacity="0.420"/><stop offset="0.0096" stop-color="#000" stop-opacity="0.475"/><stop offset="0.0120" stop-color="#000" stop-opacity="0.513"/><stop offset="0.0144" stop-color="#000" stop-opacity="0.527"/><stop offset="0.0167" stop-color="#000" stop-opacity="0.515"/><stop offset="0.0191" stop-color="#000" stop-opacity="0.478"/><stop offset="0.0263" stop-color="#000" stop-opacity="0.315"/><stop offset="0.0287" stop-color="#000" stop-opacity="0.275"/><stop offset="0.0311" stop-color="#000" stop-opacity="0.255"/><stop offset="0.0335" stop-color="#000" stop-opacity="0.254"/><stop offset="0.0359" stop-color="#000" stop-opacity="0.272"/><stop offset="0.0431" stop-color="#000" stop-opacity="0.374"/><stop offset="0.0455" stop-color="#000" stop-opacity="0.402"/><stop offset="0.0478" stop-color="#000" stop-opacity="0.416"/><stop offset="0.0502" stop-color="#000" stop-opacity="0.415"/><stop offset="0.0526" stop-color="#000" stop-opacity="0.399"/><stop offset="0.0574" stop-color="#000" stop-opacity="0.334"/><stop offset="0.0622" stop-color="#000" stop-opacity="0.265"/><stop offset="0.0646" stop-color="#000" stop-opacity="0.242"/><stop offset="0.0670" stop-color="#000" stop-opacity="0.231"/><stop offset="0.0694" stop-color="#000" stop-opacity="0.233"/><stop offset="0.0742" stop-color="#000" stop-opacity="0.263"/><stop offset="0.0813" stop-color="#000" stop-opacity="0.319"/><stop offset="0.0861" stop-color="#000" stop-opacity="0.323"/><stop offset="0.0909" stop-color="#000" stop-opacity="0.292"/><stop offset="0.1005" stop-color="#000" stop-opacity="0.202"/><stop offset="0.1053" stop-color="#000" stop-opacity="0.181"/><stop offset="0.1124" stop-color="#000" stop-opacity="0.193"/><stop offset="0.1220" stop-color="#000" stop-opacity="0.228"/><stop offset="0.1292" stop-color="#000" stop-opacity="0.227"/><stop offset="0.1483" stop-color="#000" stop-opacity="0.143"/><stop offset="0.1579" stop-color="#000" stop-opacity="0.132"/><stop offset="0.1794" stop-color="#000" stop-opacity="0.145"/><stop offset="0.2201" stop-color="#000" stop-opacity="0.083"/><stop offset="0.3971" stop-color="#000" stop-opacity="0.063"/><stop offset="0.4163" stop-color="#000" stop-opacity="0.070"/><stop offset="0.4354" stop-color="#000" stop-opacity="0.300"/><stop offset="0.4545" stop-color="#000" stop-opacity="0.750"/><stop offset="0.4737" stop-color="#000" stop-opacity="0.900"/><stop offset="0.5024" stop-color="#000" stop-opacity="0.880"/><stop offset="0.5191" stop-color="#000" stop-opacity="0.724"/><stop offset="0.5311" stop-color="#000" stop-opacity="0.550"/><stop offset="0.5598" stop-color="#000" stop-opacity="0.700"/><stop offset="0.5742" stop-color="#000" stop-opacity="0.625"/><stop offset="0.5766" stop-color="#000" stop-opacity="0.580"/><stop offset="0.5885" stop-color="#000" stop-opacity="0.250"/><stop offset="0.6077" stop-color="#000" stop-opacity="0.070"/><stop offset="0.6579" stop-color="#000" stop-opacity="0.068"/><stop offset="0.6722" stop-color="#000" stop-opacity="0.099"/><stop offset="0.6842" stop-color="#000" stop-opacity="0.130"/><stop offset="0.6938" stop-color="#000" stop-opacity="0.121"/><stop offset="0.7129" stop-color="#000" stop-opacity="0.062"/><stop offset="0.7368" stop-color="#000" stop-opacity="0.046"/><stop offset="0.9019" stop-color="#000" stop-opacity="0.040"/><stop offset="1.0000" stop-color="#000" stop-opacity="0.040"/></linearGradient><linearGradient id="g14" gradientUnits="userSpaceOnUse" x1="0" y1="499.5" x2="0" y2="604"><stop offset="0.0000" stop-color="#000" stop-opacity="0.523"/><stop offset="0.0024" stop-color="#000" stop-opacity="0.565"/><stop offset="0.0048" stop-color="#000" stop-opacity="0.569"/><stop offset="0.0072" stop-color="#000" stop-opacity="0.535"/><stop offset="0.0096" stop-color="#000" stop-opacity="0.469"/><stop offset="0.0144" stop-color="#000" stop-opacity="0.303"/><stop offset="0.0167" stop-color="#000" stop-opacity="0.232"/><stop offset="0.0191" stop-color="#000" stop-opacity="0.183"/><stop offset="0.0215" stop-color="#000" stop-opacity="0.159"/><stop offset="0.0239" stop-color="#000" stop-opacity="0.160"/><stop offset="0.0263" stop-color="#000" stop-opacity="0.182"/><stop offset="0.0335" stop-color="#000" stop-opacity="0.292"/><stop offset="0.0359" stop-color="#000" stop-opacity="0.312"/><stop offset="0.0383" stop-color="#000" stop-opacity="0.314"/><stop offset="0.0407" stop-color="#000" stop-opacity="0.297"/><stop offset="0.0455" stop-color="#000" stop-opacity="0.223"/><stop offset="0.0502" stop-color="#000" stop-opacity="0.146"/><stop offset="0.0526" stop-color="#000" stop-opacity="0.121"/><stop offset="0.0550" stop-color="#000" stop-opacity="0.108"/><stop offset="0.0598" stop-color="#000" stop-opacity="0.113"/><stop offset="0.0694" stop-color="#000" stop-opacity="0.171"/><stop offset="0.0742" stop-color="#000" stop-opacity="0.182"/><stop offset="0.0789" stop-color="#000" stop-opacity="0.166"/><stop offset="0.0909" stop-color="#000" stop-opacity="0.083"/><stop offset="0.0981" stop-color="#000" stop-opacity="0.058"/><stop offset="0.1100" stop-color="#000" stop-opacity="0.057"/><stop offset="0.1340" stop-color="#000" stop-opacity="0.112"/><stop offset="0.1435" stop-color="#000" stop-opacity="0.106"/><stop offset="0.1627" stop-color="#000" stop-opacity="0.057"/><stop offset="0.1914" stop-color="#000" stop-opacity="0.046"/><stop offset="0.5550" stop-color="#000" stop-opacity="0.044"/><stop offset="0.5957" stop-color="#000" stop-opacity="0.086"/><stop offset="0.6364" stop-color="#000" stop-opacity="0.044"/><stop offset="0.6579" stop-color="#000" stop-opacity="0.058"/><stop offset="0.6818" stop-color="#000" stop-opacity="0.084"/><stop offset="0.7033" stop-color="#000" stop-opacity="0.062"/><stop offset="0.7297" stop-color="#000" stop-opacity="0.037"/><stop offset="1.0000" stop-color="#000" stop-opacity="0.030"/></linearGradient><linearGradient id="g15" gradientUnits="userSpaceOnUse" x1="0" y1="499.5" x2="0" y2="604"><stop offset="0.0000" stop-color="#000" stop-opacity="0.523"/><stop offset="0.0024" stop-color="#000" stop-opacity="0.565"/><stop offset="0.0048" stop-color="#000" stop-opacity="0.569"/><stop offset="0.0072" stop-color="#000" stop-opacity="0.535"/><stop offset="0.0096" stop-color="#000" stop-opacity="0.469"/><stop offset="0.0144" stop-color="#000" stop-opacity="0.303"/><stop offset="0.0167" stop-color="#000" stop-opacity="0.232"/><stop offset="0.0191" stop-color="#000" stop-opacity="0.183"/><stop offset="0.0215" stop-color="#000" stop-opacity="0.159"/><stop offset="0.0239" stop-color="#000" stop-opacity="0.160"/><stop offset="0.0263" stop-color="#000" stop-opacity="0.182"/><stop offset="0.0335" stop-color="#000" stop-opacity="0.292"/><stop offset="0.0359" stop-color="#000" stop-opacity="0.312"/><stop offset="0.0383" stop-color="#000" stop-opacity="0.314"/><stop offset="0.0407" stop-color="#000" stop-opacity="0.297"/><stop offset="0.0455" stop-color="#000" stop-opacity="0.223"/><stop offset="0.0502" stop-color="#000" stop-opacity="0.146"/><stop offset="0.0526" stop-color="#000" stop-opacity="0.121"/><stop offset="0.0550" stop-color="#000" stop-opacity="0.108"/><stop offset="0.0598" stop-color="#000" stop-opacity="0.113"/><stop offset="0.0694" stop-color="#000" stop-opacity="0.171"/><stop offset="0.0742" stop-color="#000" stop-opacity="0.182"/><stop offset="0.0789" stop-color="#000" stop-opacity="0.166"/><stop offset="0.0909" stop-color="#000" stop-opacity="0.083"/><stop offset="0.0981" stop-color="#000" stop-opacity="0.058"/><stop offset="0.1100" stop-color="#000" stop-opacity="0.057"/><stop offset="0.1340" stop-color="#000" stop-opacity="0.112"/><stop offset="0.1435" stop-color="#000" stop-opacity="0.106"/><stop offset="0.1627" stop-color="#000" stop-opacity="0.057"/><stop offset="0.1914" stop-color="#000" stop-opacity="0.046"/><stop offset="0.6459" stop-color="#000" stop-opacity="0.041"/><stop offset="0.6842" stop-color="#000" stop-opacity="0.065"/><stop offset="0.7344" stop-color="#000" stop-opacity="0.035"/><stop offset="1.0000" stop-color="#000" stop-opacity="0.030"/></linearGradient></defs>
<path d="M69.0 15.5 V127.9 H236.0" fill="none" stroke="#231f20" stroke-width="1.35"/>
<path d="M66.0 19.2 H69.0" stroke="#231f20" stroke-width="1"/>
<text x="63.0" y="22.2" font-size="8.4" text-anchor="end" fill="#231f20" stroke="#231f20" stroke-width="0.22" textLength="13.05" lengthAdjust="spacingAndGlyphs" >100</text>
<path d="M66.0 40.8 H69.0" stroke="#231f20" stroke-width="1"/>
<text x="63.0" y="43.8" font-size="8.4" text-anchor="end" fill="#231f20" stroke="#231f20" stroke-width="0.22" textLength="8.70" lengthAdjust="spacingAndGlyphs" >80</text>
<path d="M66.0 62.4 H69.0" stroke="#231f20" stroke-width="1"/>
<text x="63.0" y="65.4" font-size="8.4" text-anchor="end" fill="#231f20" stroke="#231f20" stroke-width="0.22" textLength="8.70" lengthAdjust="spacingAndGlyphs" >60</text>
<path d="M66.0 84.1 H69.0" stroke="#231f20" stroke-width="1"/>
<text x="63.0" y="87.1" font-size="8.4" text-anchor="end" fill="#231f20" stroke="#231f20" stroke-width="0.22" textLength="8.70" lengthAdjust="spacingAndGlyphs" >40</text>
<path d="M66.0 105.7 H69.0" stroke="#231f20" stroke-width="1"/>
<text x="63.0" y="108.7" font-size="8.4" text-anchor="end" fill="#231f20" stroke="#231f20" stroke-width="0.22" textLength="8.70" lengthAdjust="spacingAndGlyphs" >20</text>
<path d="M66.0 127.4 H69.0" stroke="#231f20" stroke-width="1"/>
<text x="63.0" y="130.4" font-size="8.4" text-anchor="end" fill="#231f20" stroke="#231f20" stroke-width="0.22" textLength="4.35" lengthAdjust="spacingAndGlyphs" >0</text>
<path d="M69.0 127.9 V130.70000000000002" stroke="#231f20" stroke-width="1"/>
<text x="69.0" y="140.9" font-size="8.2" text-anchor="middle" fill="#231f20" stroke="#231f20" stroke-width="0.22" textLength="4.25" lengthAdjust="spacingAndGlyphs" >0</text>
<path d="M109.8 127.9 V130.70000000000002" stroke="#231f20" stroke-width="1"/>
<text x="109.8" y="140.9" font-size="8.2" text-anchor="middle" fill="#231f20" stroke="#231f20" stroke-width="0.22" textLength="12.75" lengthAdjust="spacingAndGlyphs" >500</text>
<path d="M150.6 127.9 V130.70000000000002" stroke="#231f20" stroke-width="1"/>
<text x="150.6" y="140.9" font-size="8.2" text-anchor="middle" fill="#231f20" stroke="#231f20" stroke-width="0.22" textLength="17.00" lengthAdjust="spacingAndGlyphs" >1000</text>
<path d="M191.4 127.9 V130.70000000000002" stroke="#231f20" stroke-width="1"/>
<text x="191.4" y="140.9" font-size="8.2" text-anchor="middle" fill="#231f20" stroke="#231f20" stroke-width="0.22" textLength="17.00" lengthAdjust="spacingAndGlyphs" >1500</text>
<path d="M232.2 127.9 V130.70000000000002" stroke="#231f20" stroke-width="1"/>
<text x="232.2" y="140.9" font-size="8.2" text-anchor="middle" fill="#231f20" stroke="#231f20" stroke-width="0.22" textLength="17.00" lengthAdjust="spacingAndGlyphs" >2000</text>
<text x="151.3" y="155.8" font-size="8.7" text-anchor="middle" fill="#231f20" stroke="#231f20" stroke-width="0.22" textLength="36.5" lengthAdjust="spacingAndGlyphs" >Time (min)</text>
<text transform="translate(43.2,72.2) rotate(-90)" font-size="8.6" text-anchor="middle" fill="#231f20" stroke="#231f20" stroke-width="0.22" textLength="68" lengthAdjust="spacingAndGlyphs">Response units (RU)</text>
<text x="151.2" y="14.4" font-size="9.3" text-anchor="middle" fill="#231f20" stroke="#231f20" stroke-width="0.22" >Plasminogen</text>
<polyline points="69.0,124.3 69.2,120.2 71.8,120.2 72.5,119.0 74.2,118.6 83.3,118.3 83.6,124.0 84.5,124.8 89.6,124.8 89.7,112.8 91.0,111.5 93.0,110.3 96.8,109.1 100.0,108.7 104.0,108.5 104.4,120.5 110.2,121.4 110.5,100.3 112.0,98.5 115.6,96.1 120.0,94.6 125.1,93.8 125.6,113.1 131.5,114.7 131.8,78.0 133.0,76.0 135.7,73.8 140.0,70.5 146.3,66.6 146.7,102.5 152.2,103.6 152.4,42.4 155.4,37.5 158.0,34.8 161.0,32.6 164.0,30.8 167.3,29.4 167.9,29.6 168.1,80.0 168.5,84.1 170.0,89.0 172.0,91.0 175.0,92.3 180.0,94.2 185.6,95.5 190.0,96.3 198.0,97.2 207.0,97.8 216.3,98.2" fill="none" stroke="#c8102e" stroke-width="1.45" stroke-linejoin="round"/>
<polyline points="69.0,127.0 69.2,125.6 72.0,124.8 75.0,124.3 83.3,124.3 83.6,125.3 89.6,125.3 89.7,122.9 92.0,122.3 94.8,121.9 98.7,121.0 104.0,120.5 104.4,122.9 110.2,122.9 110.5,120.0 114.0,118.0 118.7,115.7 125.1,114.7 125.6,118.4 132.0,120.0 132.2,112.5 134.0,111.2 137.8,108.8 142.0,107.3 146.3,106.2 146.7,113.1 152.2,114.9 152.4,102.9 155.0,100.5 157.8,98.8 161.9,96.8 166.3,95.9 167.0,95.2 167.2,106.9 168.4,107.0 168.8,108.0 173.5,108.0 174.0,109.0 179.8,109.0 180.3,110.0 187.2,110.0 187.7,111.1 197.8,111.1 198.3,111.9 204.7,111.9 205.2,112.9 216.3,112.9" fill="none" stroke="#124f8c" stroke-width="1.45" stroke-linejoin="round"/>
<text x="172.0" y="45.0" font-size="7.8" text-anchor="start" fill="#c8102e" stroke="#c8102e" stroke-width="0.22" textLength="11.5" lengthAdjust="spacingAndGlyphs" >Glu</text>
<text x="184.2" y="42.7" font-size="4.9" text-anchor="start" fill="#c8102e" stroke="#c8102e" stroke-width="0.22" textLength="6.4" lengthAdjust="spacingAndGlyphs" >311</text>
<text x="154.5" y="120.2" font-size="7.6" text-anchor="start" fill="#124f8c" stroke="#124f8c" stroke-width="0.22" textLength="10.1" lengthAdjust="spacingAndGlyphs" >Lys</text>
<text x="165.1" y="117.3" font-size="4.6" text-anchor="start" fill="#124f8c" stroke="#124f8c" stroke-width="0.22" textLength="6.2" lengthAdjust="spacingAndGlyphs" >311</text>
<path d="M315.4 15.5 V127.8 H482.4" fill="none" stroke="#231f20" stroke-width="1.35"/>
<path d="M312.4 18.5 H315.4" stroke="#231f20" stroke-width="1"/>
<text x="309.4" y="21.5" font-size="8.4" text-anchor="end" fill="#231f20" stroke="#231f20" stroke-width="0.22" textLength="13.05" lengthAdjust="spacingAndGlyphs" >150</text>
<path d="M312.4 54.6 H315.4" stroke="#231f20" stroke-width="1"/>
<text x="309.4" y="57.6" font-size="8.4" text-anchor="end" fill="#231f20" stroke="#231f20" stroke-width="0.22" textLength="13.05" lengthAdjust="spacingAndGlyphs" >100</text>
<path d="M312.4 90.8 H315.4" stroke="#231f20" stroke-width="1"/>
<text x="309.4" y="93.8" font-size="8.4" text-anchor="end" fill="#231f20" stroke="#231f20" stroke-width="0.22" textLength="8.70" lengthAdjust="spacingAndGlyphs" >50</text>
<path d="M312.4 127.0 H315.4" stroke="#231f20" stroke-width="1"/>
<text x="309.4" y="130.0" font-size="8.4" text-anchor="end" fill="#231f20" stroke="#231f20" stroke-width="0.22" textLength="4.35" lengthAdjust="spacingAndGlyphs" >0</text>
<path d="M315.4 127.8 V130.6" stroke="#231f20" stroke-width="1"/>
<text x="315.4" y="140.9" font-size="8.2" text-anchor="middle" fill="#231f20" stroke="#231f20" stroke-width="0.22" textLength="4.25" lengthAdjust="spacingAndGlyphs" >0</text>
<path d="M356.2 127.8 V130.6" stroke="#231f20" stroke-width="1"/>
<text x="356.2" y="140.9" font-size="8.2" text-anchor="middle" fill="#231f20" stroke="#231f20" stroke-width="0.22" textLength="12.75" lengthAdjust="spacingAndGlyphs" >500</text>
<path d="M397.0 127.8 V130.6" stroke="#231f20" stroke-width="1"/>
<text x="397.0" y="140.9" font-size="8.2" text-anchor="middle" fill="#231f20" stroke="#231f20" stroke-width="0.22" textLength="17.00" lengthAdjust="spacingAndGlyphs" >1000</text>
<path d="M437.8 127.8 V130.6" stroke="#231f20" stroke-width="1"/>
<text x="437.8" y="140.9" font-size="8.2" text-anchor="middle" fill="#231f20" stroke="#231f20" stroke-width="0.22" textLength="17.00" lengthAdjust="spacingAndGlyphs" >1500</text>
<path d="M478.6 127.8 V130.6" stroke="#231f20" stroke-width="1"/>
<text x="478.6" y="140.9" font-size="8.2" text-anchor="middle" fill="#231f20" stroke="#231f20" stroke-width="0.22" textLength="17.00" lengthAdjust="spacingAndGlyphs" >2000</text>
<text x="397.7" y="155.8" font-size="8.7" text-anchor="middle" fill="#231f20" stroke="#231f20" stroke-width="0.22" textLength="36.5" lengthAdjust="spacingAndGlyphs" >Time (min)</text>
<text transform="translate(288.79999999999995,72.2) rotate(-90)" font-size="8.6" text-anchor="middle" fill="#231f20" stroke="#231f20" stroke-width="0.22" textLength="68" lengthAdjust="spacingAndGlyphs">Response units (RU)</text>
<text x="397" y="14.4" font-size="9.3" text-anchor="middle" fill="#231f20" stroke="#231f20" stroke-width="0.22" >Plasmin</text>
<polyline points="315.4,127.0 315.6,119.2 318.0,116.0 320.5,114.0 323.8,112.8 327.0,113.5 330.3,115.8 330.6,122.5 332.0,123.5 336.5,123.5 336.7,110.8 339.0,106.0 341.0,103.5 344.2,102.0 348.0,102.3 351.8,104.3 352.1,117.5 354.0,118.5 357.4,120.0 357.6,98.0 360.0,92.0 362.5,88.5 366.0,86.7 369.0,86.8 372.0,87.4 372.3,111.6 375.0,114.0 377.7,115.5 377.9,71.8 380.0,67.0 383.0,64.0 387.0,62.3 391.5,61.7 392.9,61.8 393.2,100.8 396.0,104.0 399.3,108.0 399.5,37.0 401.0,33.0 404.0,30.0 408.0,28.3 413.4,28.1 414.6,28.5 414.9,90.0 415.2,93.5 416.0,95.5 418.0,97.5 420.6,98.8 425.0,100.9 431.0,103.0 438.5,104.6 450.0,106.3 462.7,107.8" fill="none" stroke="#c8102e" stroke-width="1.45" stroke-linejoin="round"/>
<polyline points="315.4,127.0 315.7,121.0 316.5,119.8 318.8,118.1 322.4,115.8 325.0,116.8 330.3,117.3 330.6,123.5 336.5,124.3 336.7,113.3 339.0,111.0 342.5,108.2 346.0,107.8 351.5,108.2 351.8,118.4 357.4,120.0 357.6,103.7 360.0,101.5 364.0,98.0 368.0,96.0 371.6,93.8 372.0,110.8 377.7,111.6 377.9,87.1 381.0,85.0 385.0,83.5 389.0,82.0 392.4,81.2 392.7,101.5 396.0,103.5 399.3,105.7 399.5,74.8 402.0,71.0 406.2,67.6 414.6,67.0 414.9,95.1 420.6,97.7 428.0,100.9 436.5,104.0 450.0,107.5 462.9,110.7" fill="none" stroke="#124f8c" stroke-width="1.45" stroke-linejoin="round"/>
<text x="428" y="45.0" font-size="7.8" text-anchor="start" fill="#c8102e" stroke="#c8102e" stroke-width="0.22" textLength="11.5" lengthAdjust="spacingAndGlyphs" >Glu</text>
<text x="440.2" y="42.7" font-size="4.9" text-anchor="start" fill="#c8102e" stroke="#c8102e" stroke-width="0.22" textLength="6.4" lengthAdjust="spacingAndGlyphs" >311</text>
<text x="401.2" y="113.6" font-size="7.6" text-anchor="start" fill="#124f8c" stroke="#124f8c" stroke-width="0.22" textLength="10.1" lengthAdjust="spacingAndGlyphs" >Lys</text>
<text x="411.8" y="110.69999999999999" font-size="4.6" text-anchor="start" fill="#124f8c" stroke="#124f8c" stroke-width="0.22" textLength="6.2" lengthAdjust="spacingAndGlyphs" >311</text>
<rect x="33.5" y="180.2" width="470.0" height="104.80000000000001" fill="none" stroke="#4a4a4a" stroke-width="1.3"/>
<path d="M33.5 201.3 H503.5" stroke="#4a4a4a" stroke-width="1.3"/>
<path d="M33.5 222.4 H503.5" stroke="#4a4a4a" stroke-width="1.3"/>
<path d="M33.5 243.3 H503.5" stroke="#4a4a4a" stroke-width="1.3"/>
<path d="M33.5 264.2 H503.5" stroke="#4a4a4a" stroke-width="1.3"/>
<path d="M151 180.2 V285" stroke="#4a4a4a" stroke-width="1.3"/>
<path d="M268.5 180.2 V285" stroke="#4a4a4a" stroke-width="1.3"/>
<path d="M386.5 180.2 V285" stroke="#4a4a4a" stroke-width="1.3"/>
<text x="91.3" y="193.0" font-size="9.2" text-anchor="middle" fill="#231f20" stroke="#231f20" stroke-width="0.13" >Protein</text>
<text x="209.2" y="193.0" font-size="9.2" text-anchor="middle" fill="#231f20" stroke="#231f20" stroke-width="0.13" >Ka (1/Ms)</text>
<text x="327.5" y="193.0" font-size="9.2" text-anchor="middle" fill="#231f20" stroke="#231f20" stroke-width="0.13" >Kd (1/s)</text>
<text x="444.2" y="193.0" font-size="9.2" text-anchor="middle" fill="#231f20" stroke="#231f20" stroke-width="0.13" >KD (nM)</text>
<text x="91.3" y="215.7" font-size="9.2" text-anchor="middle" fill="#231f20" stroke="#231f20" stroke-width="0.13" >Plg-Lys<tspan font-size="7" dy="-2.6" stroke-width="0">311</tspan></text>
<text x="209.2" y="215.7" font-size="9.2" text-anchor="middle" fill="#231f20" stroke="#231f20" stroke-width="0.13" >2.10 x 10<tspan font-size="7" dy="-2.6" stroke-width="0">4</tspan></text>
<text x="327.5" y="215.7" font-size="9.2" text-anchor="middle" fill="#231f20" stroke="#231f20" stroke-width="0.13" >1.23 x 10<tspan font-size="7" dy="-2.6" stroke-width="0">−3</tspan></text>
<text x="444.2" y="214.8" font-size="9.2" text-anchor="middle" fill="#231f20" stroke="#231f20" stroke-width="0.13" >58.5</text>
<text x="91.3" y="236.8" font-size="9.2" text-anchor="middle" fill="#231f20" stroke="#231f20" stroke-width="0.13" >Plg-Glu<tspan font-size="7" dy="-2.6" stroke-width="0">311</tspan></text>
<text x="209.2" y="236.8" font-size="9.2" text-anchor="middle" fill="#231f20" stroke="#231f20" stroke-width="0.13" >1.48 x 10<tspan font-size="7" dy="-2.6" stroke-width="0">4</tspan></text>
<text x="327.5" y="236.8" font-size="9.2" text-anchor="middle" fill="#231f20" stroke="#231f20" stroke-width="0.13" >8.61 x 10<tspan font-size="7" dy="-2.6" stroke-width="0">−4</tspan></text>
<text x="444.2" y="235.9" font-size="9.2" text-anchor="middle" fill="#231f20" stroke="#231f20" stroke-width="0.13" >58.2</text>
<text x="91.3" y="257.7" font-size="9.2" text-anchor="middle" fill="#231f20" stroke="#231f20" stroke-width="0.13" >Plm-Lys<tspan font-size="7" dy="-2.6" stroke-width="0">311</tspan></text>
<text x="209.2" y="257.7" font-size="9.2" text-anchor="middle" fill="#231f20" stroke="#231f20" stroke-width="0.13" >3.27 x 10<tspan font-size="7" dy="-2.6" stroke-width="0">4</tspan></text>
<text x="327.5" y="257.7" font-size="9.2" text-anchor="middle" fill="#231f20" stroke="#231f20" stroke-width="0.13" >1.16 x 10<tspan font-size="7" dy="-2.6" stroke-width="0">−3</tspan></text>
<text x="444.2" y="256.8" font-size="9.2" text-anchor="middle" fill="#231f20" stroke="#231f20" stroke-width="0.13" >35.5</text>
<text x="91.3" y="278.6" font-size="9.2" text-anchor="middle" fill="#231f20" stroke="#231f20" stroke-width="0.13" >Plm-Glu<tspan font-size="7" dy="-2.6" stroke-width="0">311</tspan></text>
<text x="209.2" y="278.6" font-size="9.2" text-anchor="middle" fill="#231f20" stroke="#231f20" stroke-width="0.13" >1.92 x 10<tspan font-size="7" dy="-2.6" stroke-width="0">4</tspan></text>
<text x="327.5" y="278.6" font-size="9.2" text-anchor="middle" fill="#231f20" stroke="#231f20" stroke-width="0.13" >1.29 x 10<tspan font-size="7" dy="-2.6" stroke-width="0">−3</tspan></text>
<text x="444.2" y="277.7" font-size="9.2" text-anchor="middle" fill="#231f20" stroke="#231f20" stroke-width="0.13" >67.0</text>
<rect x="64.5" y="330.6" width="87.80000000000001" height="106.09999999999997" fill="#d9d9d9"/>
<rect x="65.5" y="331" width="4.0" height="105" fill="#fff" opacity="0.35" filter="url(#bl2)"/>
<rect x="90.5" y="331" width="7.5" height="105" fill="#fff" opacity="0.18" filter="url(#bl2)"/>
<rect x="118.5" y="331" width="7.5" height="105" fill="#fff" opacity="0.18" filter="url(#bl2)"/>
<rect x="147.5" y="331" width="4.0" height="105" fill="#fff" opacity="0.45" filter="url(#bl2)"/>
<rect x="65" y="432" width="87" height="4.199999999999989" fill="#fff" opacity="0.45" filter="url(#bl2)"/>
<rect x="71.1" y="331" width="18.30000000000001" height="105" fill="url(#g1)" filter="url(#bl)"/>
<rect x="99" y="331" width="18.799999999999997" height="105" fill="url(#g2)" filter="url(#bl)"/>
<rect x="126.7" y="331" width="19.60000000000001" height="105" fill="url(#g3)" filter="url(#bl)"/>
<rect x="71.5" y="347" width="17.5" height="19" fill="url(#st1)" filter="url(#bl2)"/>
<rect x="99.4" y="347" width="18.0" height="19" fill="url(#st2)" filter="url(#bl2)"/>
<rect x="127.1" y="347" width="18.80000000000001" height="19" fill="url(#st3)" filter="url(#bl2)"/>
<rect x="64.5" y="330.6" width="87.80000000000001" height="106.09999999999997" fill="none" stroke="#1e1e1e" stroke-width="1.3"/>
<path d="M60.7 339.6 H64" stroke="#1e1e1e" stroke-width="1"/>
<text x="57.3" y="342.9" font-size="9.3" text-anchor="end" fill="#231f20" stroke="#231f20" stroke-width="0.22" >250</text>
<path d="M60.7 352 H64" stroke="#1e1e1e" stroke-width="1"/>
<text x="57.3" y="355.3" font-size="9.3" text-anchor="end" fill="#231f20" stroke="#231f20" stroke-width="0.22" >150</text>
<path d="M60.7 369.5 H64" stroke="#1e1e1e" stroke-width="1"/>
<text x="57.3" y="372.8" font-size="9.3" text-anchor="end" fill="#231f20" stroke="#231f20" stroke-width="0.22" >100</text>
<path d="M60.7 387.1 H64" stroke="#1e1e1e" stroke-width="1"/>
<text x="57.3" y="390.4" font-size="9.3" text-anchor="end" fill="#231f20" stroke="#231f20" stroke-width="0.22" >75</text>
<path d="M60.7 421.5 H64" stroke="#1e1e1e" stroke-width="1"/>
<text x="57.3" y="424.8" font-size="9.3" text-anchor="end" fill="#231f20" stroke="#231f20" stroke-width="0.22" >50</text>
<text x="78.9" y="323.5" font-size="8.6" text-anchor="middle" fill="#231f20" stroke="#231f20" stroke-width="0.22" >Lys</text>
<text x="108" y="323.5" font-size="8.6" text-anchor="middle" fill="#231f20" stroke="#231f20" stroke-width="0.22" >Glu</text>
<text x="137" y="323.5" font-size="8.6" text-anchor="middle" fill="#231f20" stroke="#231f20" stroke-width="0.22" >C</text>
<path d="M152.9,345.3 Q158.84,344.10 163.70,342.70 L163.70,347.90 Q158.84,346.50 152.9,345.3 Z" fill="#000"/>
<path d="M152.9,362.4 Q158.84,361.20 163.70,359.80 L163.70,365.00 Q158.84,363.60 152.9,362.4 Z" fill="#000"/>
<path d="M152.9,386.0 Q158.84,384.76 163.70,383.30 L163.70,388.70 Q158.84,387.24 152.9,386.0 Z" fill="#000"/>
<path d="M152.9,389.8 Q158.84,388.56 163.70,387.10 L163.70,392.50 Q158.84,391.04 152.9,389.8 Z" fill="#000"/>
<text x="167.6" y="347.5" font-size="7.0" text-anchor="start" fill="#231f20" stroke="#231f20" stroke-width="0.22" textLength="9.8" lengthAdjust="spacingAndGlyphs" >HK</text>
<text x="167.6" y="364.6" font-size="7.0" text-anchor="start" fill="#231f20" stroke="#231f20" stroke-width="0.22" textLength="9.8" lengthAdjust="spacingAndGlyphs" >HK</text>
<text x="167.6" y="389.8" font-size="7.0" text-anchor="start" fill="#231f20" stroke="#231f20" stroke-width="0.22" textLength="12" lengthAdjust="spacingAndGlyphs" >Plm</text>
<rect x="216.6" y="330.4" width="114.4" height="106.40000000000003" fill="#d7d7d7"/>
<rect x="217.5" y="331" width="2.5" height="105" fill="#fff" opacity="0.3" filter="url(#bl2)"/>
<rect x="241" y="331" width="8" height="105" fill="#fff" opacity="0.15" filter="url(#bl2)"/>
<rect x="270" y="331" width="8" height="105" fill="#fff" opacity="0.12" filter="url(#bl2)"/>
<rect x="299" y="331" width="8" height="105" fill="#fff" opacity="0.12" filter="url(#bl2)"/>
<rect x="327.5" y="331" width="2.8000000000000114" height="105" fill="#fff" opacity="0.3" filter="url(#bl2)"/>
<rect x="220.6" y="331" width="19.80000000000001" height="105" fill="url(#g4)" filter="url(#bl)"/>
<rect x="249.4" y="331" width="20.400000000000006" height="105" fill="url(#g5)" filter="url(#bl)"/>
<rect x="278.9" y="331" width="19.400000000000034" height="105" fill="url(#g6)" filter="url(#bl)"/>
<rect x="308" y="331" width="18.5" height="105" fill="url(#g7)" filter="url(#bl)"/>
<rect x="221" y="348" width="19" height="18" fill="url(#st4)" filter="url(#bl2)"/>
<rect x="249.8" y="348" width="19.599999999999966" height="18" fill="url(#st5)" filter="url(#bl2)"/>
<rect x="216.6" y="330.4" width="114.4" height="106.40000000000003" fill="none" stroke="#1e1e1e" stroke-width="1.3"/>
<path d="M212.89999999999998 339.4 H216.2" stroke="#1e1e1e" stroke-width="1"/>
<path d="M212.89999999999998 352.2 H216.2" stroke="#1e1e1e" stroke-width="1"/>
<path d="M212.89999999999998 369.7 H216.2" stroke="#1e1e1e" stroke-width="1"/>
<path d="M212.89999999999998 387 H216.2" stroke="#1e1e1e" stroke-width="1"/>
<path d="M212.89999999999998 421.6 H216.2" stroke="#1e1e1e" stroke-width="1"/>
<text x="229.8" y="323.5" font-size="8.6" text-anchor="middle" fill="#231f20" stroke="#231f20" stroke-width="0.22" >Lys</text>
<text x="256.1" y="323.5" font-size="8.6" text-anchor="middle" fill="#231f20" stroke="#231f20" stroke-width="0.22" >Glu</text>
<text x="287" y="323.5" font-size="8.6" text-anchor="middle" fill="#231f20" stroke="#231f20" stroke-width="0.22" >Lys</text>
<text x="318.5" y="323.5" font-size="8.6" text-anchor="middle" fill="#231f20" stroke="#231f20" stroke-width="0.22" >Glu</text>
<path d="M331.7,346.2 Q337.64,345.00 342.50,343.60 L342.50,348.80 Q337.64,347.40 331.7,346.2 Z" fill="#000"/>
<path d="M331.7,363.5 Q337.64,362.30 342.50,360.90 L342.50,366.10 Q337.64,364.70 331.7,363.5 Z" fill="#000"/>
<path d="M331.7,386.7 Q337.64,385.46 342.50,384.00 L342.50,389.40 Q337.64,387.94 331.7,386.7 Z" fill="#000"/>
<path d="M331.7,390.7 Q337.64,389.46 342.50,388.00 L342.50,393.40 Q337.64,391.94 331.7,390.7 Z" fill="#000"/>
<text x="346.2" y="348.4" font-size="7.0" text-anchor="start" fill="#231f20" stroke="#231f20" stroke-width="0.22" textLength="9.8" lengthAdjust="spacingAndGlyphs" >HK</text>
<text x="346.2" y="365.7" font-size="7.0" text-anchor="start" fill="#231f20" stroke="#231f20" stroke-width="0.22" textLength="9.8" lengthAdjust="spacingAndGlyphs" >HK</text>
<text x="346.2" y="390.4" font-size="7.0" text-anchor="start" fill="#231f20" stroke="#231f20" stroke-width="0.22" textLength="12" lengthAdjust="spacingAndGlyphs" >Plm</text>
<rect x="399.6" y="330.6" width="88.0" height="106.09999999999997" fill="#d9d9d9"/>
<rect x="400.5" y="331" width="3.0" height="105" fill="#fff" opacity="0.3" filter="url(#bl2)"/>
<rect x="426.5" y="331" width="6.0" height="105" fill="#fff" opacity="0.18" filter="url(#bl2)"/>
<rect x="453.5" y="331" width="6.5" height="105" fill="#fff" opacity="0.18" filter="url(#bl2)"/>
<rect x="484.5" y="331" width="2.5" height="105" fill="#fff" opacity="0.35" filter="url(#bl2)"/>
<rect x="404.3" y="331" width="21.19999999999999" height="105" fill="url(#g8)" filter="url(#bl)"/>
<rect x="433.5" y="331" width="19.0" height="105" fill="url(#g9)" filter="url(#bl)"/>
<rect x="461" y="331" width="22.600000000000023" height="105" fill="url(#g10)" filter="url(#bl)"/>
<rect x="399.6" y="330.6" width="88.0" height="106.09999999999997" fill="none" stroke="#1e1e1e" stroke-width="1.3"/>
<path d="M395.9 340.2 H399.2" stroke="#1e1e1e" stroke-width="1"/>
<path d="M395.9 352.7 H399.2" stroke="#1e1e1e" stroke-width="1"/>
<path d="M395.9 370.4 H399.2" stroke="#1e1e1e" stroke-width="1"/>
<path d="M395.9 387.1 H399.2" stroke="#1e1e1e" stroke-width="1"/>
<path d="M395.9 421.5 H399.2" stroke="#1e1e1e" stroke-width="1"/>
<text x="413.7" y="323.5" font-size="8.6" text-anchor="middle" fill="#231f20" stroke="#231f20" stroke-width="0.22" >Lys</text>
<text x="443" y="323.5" font-size="8.6" text-anchor="middle" fill="#231f20" stroke="#231f20" stroke-width="0.22" >Glu</text>
<text x="472.2" y="323.5" font-size="8.6" text-anchor="middle" fill="#231f20" stroke="#231f20" stroke-width="0.22" >C</text>
<text x="442.6" y="446.6" font-size="9.3" text-anchor="middle" fill="#231f20" stroke="#231f20" stroke-width="0.22" textLength="44" lengthAdjust="spacingAndGlyphs" >Mouse HK</text>
<path d="M488.1,346.5 Q494.04,345.30 498.90,343.90 L498.90,349.10 Q494.04,347.70 488.1,346.5 Z" fill="#000"/>
<path d="M488.1,363.7 Q494.04,362.50 498.90,361.10 L498.90,366.30 Q494.04,364.90 488.1,363.7 Z" fill="#000"/>
<path d="M488.1,386.9 Q494.04,385.66 498.90,384.20 L498.90,389.60 Q494.04,388.14 488.1,386.9 Z" fill="#000"/>
<path d="M488.1,391.0 Q494.04,389.76 498.90,388.30 L498.90,393.70 Q494.04,392.24 488.1,391.0 Z" fill="#000"/>
<text x="501.2" y="348.6" font-size="7.0" text-anchor="start" fill="#231f20" stroke="#231f20" stroke-width="0.22" textLength="9.8" lengthAdjust="spacingAndGlyphs" >HK</text>
<text x="501.2" y="365.9" font-size="7.0" text-anchor="start" fill="#231f20" stroke="#231f20" stroke-width="0.22" textLength="9.8" lengthAdjust="spacingAndGlyphs" >HK</text>
<text x="501.2" y="390.7" font-size="7.0" text-anchor="start" fill="#231f20" stroke="#231f20" stroke-width="0.22" textLength="12" lengthAdjust="spacingAndGlyphs" >Plm</text>
<rect x="62.8" y="498.8" width="145.0" height="105.99999999999994" fill="#d9d9d9"/>
<rect x="150" y="499" width="57" height="105" fill="#fff" opacity="0.16" filter="url(#bl3)"/>
<rect x="63.5" y="499" width="6.5" height="105" fill="#fff" opacity="0.3" filter="url(#bl2)"/>
<rect x="92" y="499" width="6" height="105" fill="#fff" opacity="0.35" filter="url(#bl2)"/>
<rect x="120" y="499" width="6" height="105" fill="#fff" opacity="0.35" filter="url(#bl2)"/>
<rect x="148" y="499" width="6" height="105" fill="#fff" opacity="0.3" filter="url(#bl2)"/>
<rect x="175" y="499" width="6" height="105" fill="#fff" opacity="0.22" filter="url(#bl2)"/>
<rect x="72" y="499.5" width="18.799999999999997" height="104.5" fill="url(#g11)" filter="url(#bl)"/>
<rect x="99.7" y="499.5" width="19.099999999999994" height="104.5" fill="url(#g12)" filter="url(#bl)"/>
<rect x="127.2" y="499.5" width="19.799999999999997" height="104.5" fill="url(#g13)" filter="url(#bl)"/>
<rect x="154.8" y="499.5" width="18.69999999999999" height="104.5" fill="url(#g14)" filter="url(#bl)"/>
<rect x="182" y="499.5" width="20.69999999999999" height="104.5" fill="url(#g15)" filter="url(#bl)"/>
<circle cx="87.8" cy="518.9" r="1.0" fill="#555" opacity="0.75" filter="url(#bl4)"/>
<circle cx="98.7" cy="519.3" r="1.0" fill="#555" opacity="0.75" filter="url(#bl4)"/>
<circle cx="95.7" cy="533.6" r="1.0" fill="#555" opacity="0.6" filter="url(#bl4)"/>
<circle cx="78.5" cy="528" r="1.0" fill="#555" opacity="0.35" filter="url(#bl4)"/>
<circle cx="101" cy="566.7" r="1.0" fill="#555" opacity="0.5" filter="url(#bl4)"/>
<circle cx="149.5" cy="522" r="1.0" fill="#555" opacity="0.3" filter="url(#bl4)"/>
<circle cx="202" cy="588.5" r="1.0" fill="#555" opacity="0.4" filter="url(#bl4)"/>
<rect x="62.8" y="498.8" width="145.0" height="105.99999999999994" fill="none" stroke="#1e1e1e" stroke-width="1.3"/>
<path d="M59.0 505.5 H62.3" stroke="#1e1e1e" stroke-width="1"/>
<text x="56.5" y="508.8" font-size="9.3" text-anchor="end" fill="#231f20" stroke="#231f20" stroke-width="0.22" >250</text>
<path d="M59.0 515.9 H62.3" stroke="#1e1e1e" stroke-width="1"/>
<text x="56.5" y="519.2" font-size="9.3" text-anchor="end" fill="#231f20" stroke="#231f20" stroke-width="0.22" >150</text>
<path d="M59.0 527.5 H62.3" stroke="#1e1e1e" stroke-width="1"/>
<text x="56.5" y="530.8" font-size="9.3" text-anchor="end" fill="#231f20" stroke="#231f20" stroke-width="0.22" >100</text>
<path d="M59.0 538.8 H62.3" stroke="#1e1e1e" stroke-width="1"/>
<text x="56.5" y="542.1" font-size="9.3" text-anchor="end" fill="#231f20" stroke="#231f20" stroke-width="0.22" >75</text>
<path d="M59.0 562.7 H62.3" stroke="#1e1e1e" stroke-width="1"/>
<text x="56.5" y="566.0" font-size="9.3" text-anchor="end" fill="#231f20" stroke="#231f20" stroke-width="0.22" >50</text>
<path d="M59.0 585.2 H62.3" stroke="#1e1e1e" stroke-width="1"/>
<text x="56.5" y="588.5" font-size="9.3" text-anchor="end" fill="#231f20" stroke="#231f20" stroke-width="0.22" >37</text>
<text x="79.6" y="495.2" font-size="8.6" text-anchor="middle" fill="#231f20" stroke="#231f20" stroke-width="0.22" >Lys</text>
<text x="107.3" y="495.2" font-size="8.6" text-anchor="middle" fill="#231f20" stroke="#231f20" stroke-width="0.22" >Glu</text>
<text x="137.5" y="495.2" font-size="8.6" text-anchor="middle" fill="#231f20" stroke="#231f20" stroke-width="0.22" >C</text>
<text x="163.3" y="495.2" font-size="8.6" text-anchor="middle" fill="#231f20" stroke="#231f20" stroke-width="0.22" >Lys</text>
<text x="192.8" y="495.2" font-size="8.6" text-anchor="middle" fill="#231f20" stroke="#231f20" stroke-width="0.22" >Glu</text>
<text x="105.2" y="472.5" font-size="8.6" text-anchor="middle" fill="#231f20" stroke="#231f20" stroke-width="0.22" textLength="19.8" lengthAdjust="spacingAndGlyphs" >+ LK</text>
<text x="178" y="472.5" font-size="8.6" text-anchor="middle" fill="#231f20" stroke="#231f20" stroke-width="0.22" textLength="18.6" lengthAdjust="spacingAndGlyphs" >− LK</text>
<path d="M64.9 484.6 V477.8 H147.2 V484.6" fill="none" stroke="#1e1e1e" stroke-width="1.2"/>
<path d="M151.2 484.6 V477.8 H205.1 V484.6" fill="none" stroke="#1e1e1e" stroke-width="1.2"/>
<path d="M208.6,532.5 Q214.87,531.30 220.00,529.90 L220.00,535.10 Q214.87,533.70 208.6,532.5 Z" fill="#000"/>
<path d="M208.6,536.4 Q214.87,535.20 220.00,533.80 L220.00,539.00 Q214.87,537.60 208.6,536.4 Z" fill="#000"/>
<path d="M208.6,551.5 Q214.87,550.49 220.00,549.30 L220.00,553.70 Q214.87,552.51 208.6,551.5 Z" fill="#000"/>
<path d="M208.6,559.4 Q214.87,558.34 220.00,557.10 L220.00,561.70 Q214.87,560.46 208.6,559.4 Z" fill="#000"/>
<text x="223.8" y="536.8" font-size="7.0" text-anchor="start" fill="#231f20" stroke="#231f20" stroke-width="0.22" textLength="12.2" lengthAdjust="spacingAndGlyphs" >Plm</text>
<text x="223.6" y="557.7" font-size="7.0" text-anchor="start" fill="#231f20" stroke="#231f20" stroke-width="0.22" textLength="8.2" lengthAdjust="spacingAndGlyphs" >LK</text>
<text x="6.9" y="14.8" font-size="11.4" text-anchor="start" fill="#000" stroke="#000" stroke-width="0.22" font-weight="bold" >A</text>
<text x="6.9" y="316.2" font-size="11.6" text-anchor="start" fill="#000" stroke="#000" stroke-width="0.22" textLength="7.9" lengthAdjust="spacingAndGlyphs" font-weight="bold" >B</text>
<text x="6.5" y="468.8" font-size="12.1" text-anchor="start" fill="#000" stroke="#000" stroke-width="0.22" textLength="8.2" lengthAdjust="spacingAndGlyphs" font-weight="bold" >C</text>
<rect x="0.625" y="0.625" width="518.75" height="610.75" fill="none" stroke="#000" stroke-width="1.25"/>
</svg>
</body></html>
